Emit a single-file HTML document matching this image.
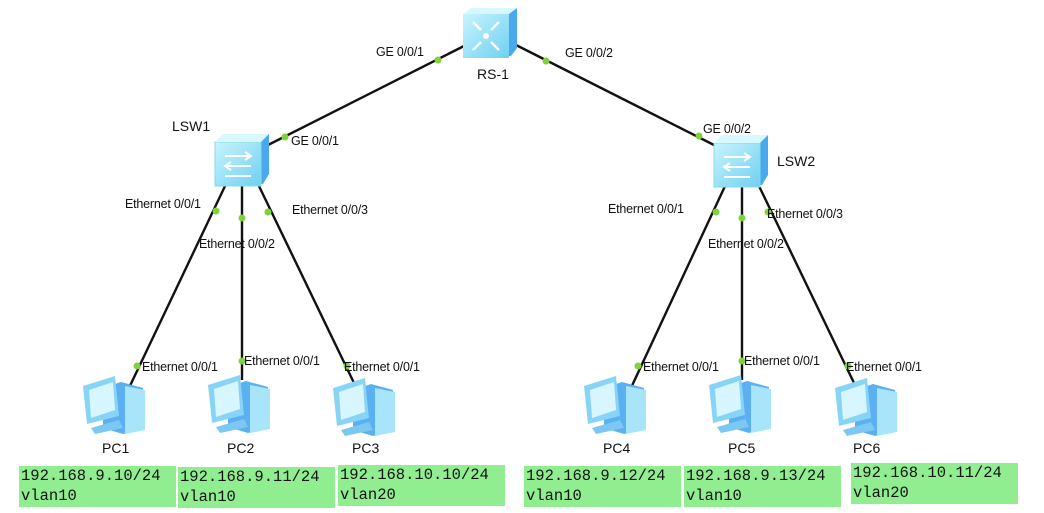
<!DOCTYPE html>
<html><head><style>
body{margin:0;width:1044px;height:513px;background:#fff;position:relative;overflow:hidden;font-family:"Liberation Sans",sans-serif}
.l{position:absolute;font-size:12.5px;color:#111;white-space:nowrap;letter-spacing:-0.2px}
.n{position:absolute;font-size:14px;color:#111}
.b{position:absolute;background:#90ee90;font-family:"Liberation Mono",monospace;font-size:15.5px;line-height:20px;padding-left:2px;color:#111;height:41px;box-sizing:border-box;padding-top:0px;white-space:nowrap;overflow:hidden}
svg{position:absolute;left:0;top:0}
</style></head><body>
<svg width="1044" height="513">
<defs>
<linearGradient id="g" x1="0" y1="0" x2="1" y2="1"><stop offset="0" stop-color="#c8f4ff"/><stop offset="1" stop-color="#6fd0f0"/></linearGradient>
<g id="sw"><path d="M8 4 L48 4 L54 0 L54 40 L48 50 L8 50 Z" fill="#4aa8ee"/><rect x="0" y="8" width="46" height="44" fill="url(#g)" stroke="#8dd"/><path d="M0 8 L8 0 L54 0 L46 8 Z" fill="#d8f8ff"/><path d="M10 22h26m-6-4 6 4-6 4M36 32H10m6-4-6 4 6 4M10 42h26" stroke="#fff" stroke-width="2" fill="none"/></g>
<g id="pc"><path d="M20 12 L38 6 L60 12 L60 52 L40 58 L20 52Z" fill="#5ab0f0"/><path d="M42 10 L62 14 L62 54 L42 58Z" fill="#a8e4fa"/><path d="M0 10 L32 0 L36 40 L4 48Z" fill="#88d4f6"/><path d="M6 14 L30 6 L32 34 L8 42Z" fill="#d8f6ff"/><path d="M8 52 L36 44 L40 52 L12 58Z" fill="#7cc8f2"/></g>
</defs>
<g stroke="#111" stroke-width="2.4">
<line x1="464" y1="46" x2="266" y2="146"/><line x1="514" y1="44" x2="716" y2="146"/>
<line x1="226" y1="184" x2="128" y2="390"/><line x1="242" y1="186" x2="242" y2="380"/><line x1="258" y1="184" x2="355" y2="385"/>
<line x1="726" y1="184" x2="630" y2="390"/><line x1="742" y1="186" x2="742" y2="380"/><line x1="758" y1="184" x2="855" y2="385"/>
</g>
<g fill="#7ed23a">
<circle cx="438" cy="60" r="3.5"/><circle cx="285" cy="137" r="3.5"/><circle cx="546" cy="61" r="3.5"/><circle cx="699" cy="136" r="3.5"/>
<circle cx="216" cy="211" r="3.5"/><circle cx="242" cy="218" r="3.5"/><circle cx="268" cy="212" r="3.5"/>
<circle cx="137" cy="366" r="3.5"/><circle cx="242" cy="361" r="3.5"/><circle cx="347" cy="366" r="3.5"/>
<circle cx="716" cy="212" r="3.5"/><circle cx="742" cy="218" r="3.5"/><circle cx="768" cy="212" r="3.5"/>
<circle cx="638" cy="366" r="3.5"/><circle cx="742" cy="361" r="3.5"/><circle cx="848" cy="366" r="3.5"/>
</g>
<g transform="translate(463,8)"><path d="M6 4 L48 4 L54 0 L54 40 L48 48 L6 48Z" fill="#4aa8ee"/><rect x="0" y="6" width="46" height="44" fill="url(#g)"/><path d="M0 6 L8 0 L54 0 L46 6Z" fill="#d8f8ff"/><g stroke="#fff" stroke-width="2.5" fill="none"><path d="M10 14l8 8M36 14l-8 8M10 42l8-8M36 42l-8-8"/></g><circle cx="23" cy="28" r="3" fill="#fff"/></g>
<use href="#sw" x="215" y="134"/><use href="#sw" x="714" y="135"/>
<use href="#pc" x="83" y="376"/><use href="#pc" x="208" y="375"/><use href="#pc" x="333" y="378"/>
<use href="#pc" x="584" y="376"/><use href="#pc" x="709" y="375"/><use href="#pc" x="835" y="378"/>
</svg>
<div class="l" style="left:376px;top:45px">GE 0/0/1</div>
<div class="l" style="left:565px;top:46px">GE 0/0/2</div>
<div class="n" style="left:477px;top:66px">RS-1</div>
<div class="n" style="left:172px;top:118px">LSW1</div>
<div class="l" style="left:291px;top:134px">GE 0/0/1</div>
<div class="l" style="left:703px;top:122px">GE 0/0/2</div>
<div class="n" style="left:777px;top:153px">LSW2</div>
<div class="l" style="left:125px;top:197px">Ethernet 0/0/1</div>
<div class="l" style="left:199px;top:237px">Ethernet 0/0/2</div>
<div class="l" style="left:292px;top:203px">Ethernet 0/0/3</div>
<div class="l" style="left:608px;top:202px">Ethernet 0/0/1</div>
<div class="l" style="left:708px;top:237px">Ethernet 0/0/2</div>
<div class="l" style="left:767px;top:207px">Ethernet 0/0/3</div>
<div class="l" style="left:142px;top:360px">Ethernet 0/0/1</div>
<div class="l" style="left:244px;top:354px">Ethernet 0/0/1</div>
<div class="l" style="left:344px;top:360px">Ethernet 0/0/1</div>
<div class="l" style="left:643px;top:360px">Ethernet 0/0/1</div>
<div class="l" style="left:744px;top:354px">Ethernet 0/0/1</div>
<div class="l" style="left:846px;top:360px">Ethernet 0/0/1</div>
<div class="n" style="left:102px;top:440px">PC1</div>
<div class="n" style="left:227px;top:440px">PC2</div>
<div class="n" style="left:352px;top:440px">PC3</div>
<div class="n" style="left:603px;top:440px">PC4</div>
<div class="n" style="left:728px;top:440px">PC5</div>
<div class="n" style="left:853px;top:440px">PC6</div>
<div class="b" style="left:19px;top:466px;width:157px">192.168.9.10/24<br>vlan10</div>
<div class="b" style="left:178px;top:467px;width:157px">192.168.9.11/24<br>vlan10</div>
<div class="b" style="left:338px;top:465px;width:167px">192.168.10.10/24<br>vlan20</div>
<div class="b" style="left:524px;top:466px;width:157px">192.168.9.12/24<br>vlan10</div>
<div class="b" style="left:684px;top:466px;width:157px">192.168.9.13/24<br>vlan10</div>
<div class="b" style="left:851px;top:463px;width:167px">192.168.10.11/24<br>vlan20</div>
</body></html>
